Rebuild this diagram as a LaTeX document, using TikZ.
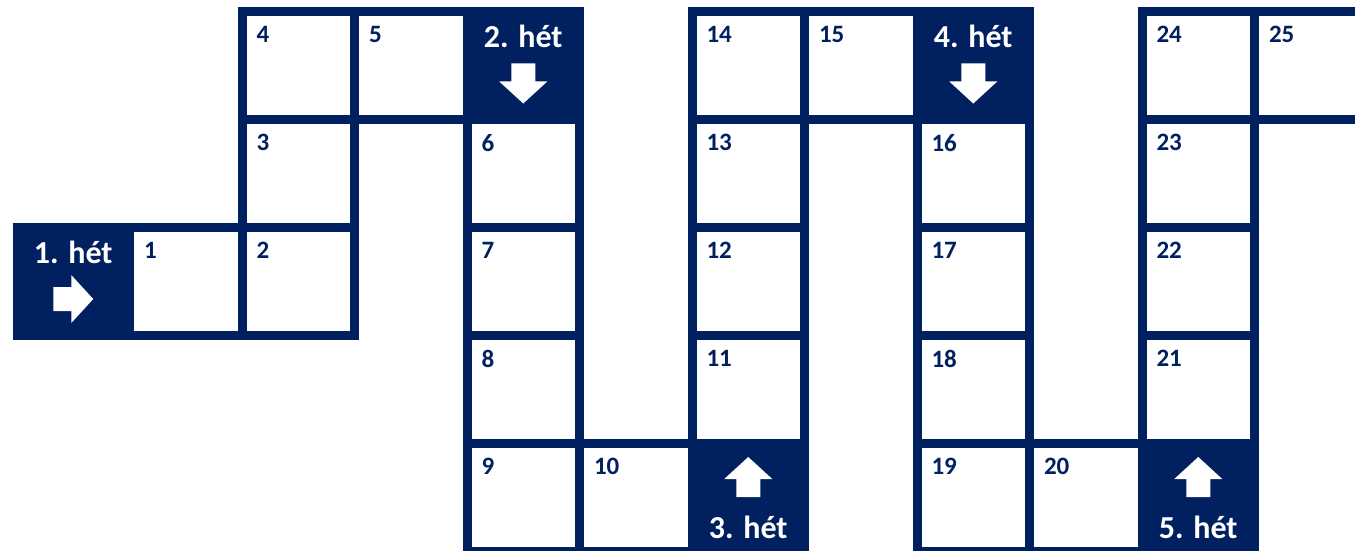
\documentclass[tikz,border=0pt]{standalone}
\usepackage{fontspec}
\setmainfont{Carlito}
\usepackage{xcolor}
\definecolor{navy}{HTML}{002060}

\tikzset{
  blockarrow/.pic={
    \fill[white] (-20,-12) -- (-2,-12) -- (-2,-24) -- (20,0) -- (-2,24) -- (-2,12) -- (-20,12) -- cycle;
  }
}

\begin{document}
\begin{tikzpicture}[x=1pt,y=-1pt,
  cell/.style={fill=white, minimum width=103.5, minimum height=99, inner sep=0},
  weekcell/.style={fill=navy, minimum width=103.5, minimum height=99, inner sep=0},
  num/.style={anchor=north west, inner sep=0, text=navy, font=\fontsize{25}{25}\selectfont\bfseries},
  weektext/.style={anchor=base, inner sep=0, text=white, font=\fontsize{32}{32}\selectfont\bfseries}]

  % Frame of the picture
  \useasboundingbox (0,0) rectangle (1355,551);
  \clip (0,0) rectangle (1355,551);

  % Dark band behind all squares
  \foreach \c/\r in {0/2,1/2,2/2,2/1,2/0,3/0,4/0,4/1,4/2,4/3,4/4,5/4,6/4,6/3,6/2,6/1,6/0,
                     7/0,8/0,8/1,8/2,8/3,8/4,9/4,10/4,10/3,10/2,10/1,10/0,11/0} {
    \fill[navy] (12.5+112.5*\c,7+108*\r) rectangle (134+112.5*\c,124+108*\r);
  }

  % Day squares
  \foreach \c/\r/\n in {1/2/1,2/2/2,2/1/3,2/0/4,3/0/5,4/1/6,4/2/7,4/3/8,4/4/9,5/4/10,
                        6/3/11,6/2/12,6/1/13,6/0/14,7/0/15,8/1/16,8/2/17,8/3/18,8/4/19,
                        9/4/20,10/3/21,10/2/22,10/1/23,10/0/24,11/0/25} {
    \node[cell] (c\n) at (73.25+112.5*\c,65.5+108*\r) {};
    \node[num] (n\n) at ([shift={(10,10)}]c\n.north west) {\n};
  }

  % Week squares: text offset, arrow offset, arrow direction
  \foreach \c/\r/\w/\ty/\ay/\rot in {0/2/1/-18.5/17.5/0, 4/0/2/-17.5/18/-90, 6/4/3/40.5/-20.5/90,
                                     8/0/4/-17.5/18/-90, 10/4/5/40.5/-20.5/90} {
    \node[weekcell] (w\w) at (73.25+112.5*\c,65.5+108*\r) {};
    \node[weektext] (t\w) at ([yshift=-\ty]w\w.center) {\w. hét};
    \pic[rotate=\rot] (a\w) at ([yshift=-\ay]w\w.center) {blockarrow};
  }
\end{tikzpicture}
\end{document}
